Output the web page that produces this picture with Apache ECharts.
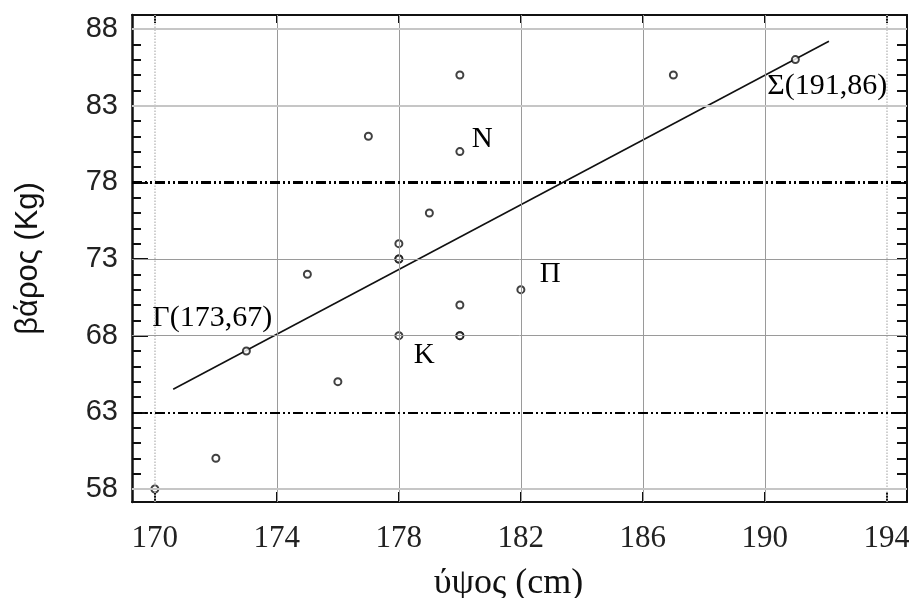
<!DOCTYPE html>
<html>
<head>
<meta charset="utf-8">
<script src="https://cdn.jsdelivr.net/npm/echarts@6/dist/echarts.min.js"></script>
<style>
  html, body { margin: 0; padding: 0; background: #ffffff; }
  #chart { width: 909px; height: 598px; }
</style>
</head>
<body>
<div id="chart"></div>
<script>
// Height (cm) and weight (Kg) of the sampled people
const heights = [170, 172, 173, 175, 176, 177, 178, 178, 178, 178, 179, 180, 180, 180, 180, 180, 182, 187, 191];
const weights = [58, 60, 67, 72, 65, 81, 68, 73, 73, 74, 76, 68, 70, 80, 85, 68, 71, 85, 86];
// Named points: [height, weight, letter]
const namedPoints = [[173, 67, 'Γ'], [191, 86, 'Σ'], [180, 80, 'N'], [178, 68, 'K'], [182, 71, 'Π']];
// Least-squares line, endpoints of the drawn segment
const fitLine = [[170.6, 64.5], [192.1, 87.2]];
// Reference levels drawn as dash-dot lines
const refLevels = [78, 63];

// Axis ticks
const xTicks = [170, 174, 178, 182, 186, 190, 194];
const yTicks = [58, 63, 68, 73, 78, 83, 88];
const yMinorTicks = [58, 59, 60, 61, 62, 63, 64, 65, 66, 67, 68, 69, 70, 71, 72, 73,
  74, 75, 76, 77, 78, 79, 80, 81, 82, 83, 84, 85, 86, 87, 88];

const X_MIN = 169.25, X_MAX = 194.66;
const Y_MIN = 57.15, Y_MAX = 88.91;

const serif = '"Liberation Serif", "DejaVu Serif", serif';
const sans = '"Liberation Sans", "DejaVu Sans", sans-serif';

// label placement for the named points (style only)
const labelPlace = {
  'Γ': [-94, -33], 'Σ': [-28, 27], 'N': [12, -12], 'K': [15, 20], 'Π': [19, -15]
};

const points = heights.map((h, i) => {
  const w = weights[i];
  const named = namedPoints.find(p => p[0] === h && p[1] === w);
  const item = { value: [h, w] };
  if (named) {
    const letter = named[2];
    const withCoords = letter === 'Γ' || letter === 'Σ';
    item.label = {
      show: true,
      position: 'inside',
      align: 'left',
      verticalAlign: 'middle',
      offset: labelPlace[letter],
      formatter: withCoords ? `${letter}(${h},${w})` : letter,
      fontFamily: serif,
      fontSize: withCoords ? 30 : 29,
      color: '#000000',
      textBorderWidth: 0,
      textBorderColor: 'transparent',
      opacity: 1
    };
  }
  return item;
});

const gridLight = { color: '#c6c6c6', width: 2, type: 'solid' };
const gridDark = { color: '#9a9a9a', width: 1, type: 'solid' };

const markData = [];
xTicks.forEach(v => {
  const edge = v === xTicks[0] || v === xTicks[xTicks.length - 1];
  markData.push({ xAxis: v, lineStyle: edge ? { color: '#c0c0c0', width: 1.5, type: 'dotted' } : gridDark });
});
yTicks.forEach(v => {
  if (refLevels.includes(v)) return;
  const light = v === 58 || v === 83 || v === 88;
  markData.push({ yAxis: v, lineStyle: light ? gridLight : gridDark });
});
refLevels.forEach((v, i) => {
  markData.push({ yAxis: v, lineStyle: { color: '#000', width: i === 0 ? 3 : 2, type: [10, 3, 2, 3, 2, 3] } });
});

const chart = echarts.init(document.getElementById('chart'), null, { renderer: 'canvas' });
chart.setOption({
  animation: false,
  backgroundColor: '#ffffff',
  grid: { left: 132, right: 2, top: 15, bottom: 96, containLabel: false, outerBoundsMode: 'none' },
  xAxis: [
    {
      type: 'value', position: 'bottom', min: X_MIN, max: X_MAX,
      name: 'ύψος (cm)', nameLocation: 'middle', nameGap: 64, nameMoveOverlap: false,
      nameTextStyle: { fontFamily: serif, fontSize: 36, color: '#111', padding: [0, 22, 0, 0] },
      axisLine: { show: true, lineStyle: { color: '#111', width: 2 } },
      axisTick: { show: true, inside: true, length: 10, customValues: xTicks, lineStyle: { color: '#111', width: 2 } },
      axisLabel: { customValues: xTicks, fontFamily: serif, fontSize: 31, color: '#222', margin: 21 },
      splitLine: { show: false }
    },
    {
      type: 'value', position: 'top', min: X_MIN, max: X_MAX,
      axisLine: { show: true, lineStyle: { color: '#111', width: 2 } },
      axisTick: { show: true, inside: true, length: 8, customValues: xTicks, lineStyle: { color: '#111', width: 2 } },
      axisLabel: { show: false },
      splitLine: { show: false }
    }
  ],
  yAxis: [
    {
      type: 'value', position: 'left', min: Y_MIN, max: Y_MAX,
      name: 'βάρος (Kg)', nameLocation: 'middle', nameGap: 88, nameRotate: 90, nameMoveOverlap: false,
      nameTextStyle: { fontFamily: sans, fontSize: 31, color: '#111' },
      axisLine: { show: true, lineStyle: { color: '#111', width: 2.5 } },
      axisTick: { show: true, inside: true, length: 16, customValues: yTicks, lineStyle: { color: '#111', width: 2 } },
      axisLabel: { customValues: yTicks, fontFamily: sans, fontSize: 29, color: '#222', margin: 14 },
      splitLine: { show: false }
    },
    {
      type: 'value', position: 'left', min: Y_MIN, max: Y_MAX,
      axisLine: { show: false },
      axisTick: { show: true, inside: true, length: 9, customValues: yMinorTicks, lineStyle: { color: '#111', width: 2 } },
      axisLabel: { show: false },
      splitLine: { show: false }
    },
    {
      type: 'value', position: 'right', min: Y_MIN, max: Y_MAX,
      axisLine: { show: true, lineStyle: { color: '#111', width: 2 } },
      axisTick: { show: true, inside: true, length: 10, customValues: yMinorTicks, lineStyle: { color: '#111', width: 2 } },
      axisLabel: { show: false },
      splitLine: { show: false }
    }
  ],
  series: [
    {
      type: 'line',
      xAxisIndex: 0, yAxisIndex: 0,
      data: fitLine,
      symbol: 'none',
      lineStyle: { color: '#111', width: 1.6 },
      z: 2,
      silent: true,
      markLine: {
        silent: true,
        symbol: ['none', 'none'],
        label: { show: false },
        data: markData
      }
    },
    {
      type: 'scatter',
      xAxisIndex: 0, yAxisIndex: 0,
      data: points,
      symbol: 'circle',
      symbolSize: 7,
      itemStyle: { color: '#ffffff', borderColor: '#111', borderWidth: 2 },
      z: 3
    }
  ]
});
</script>
</body>
</html>
